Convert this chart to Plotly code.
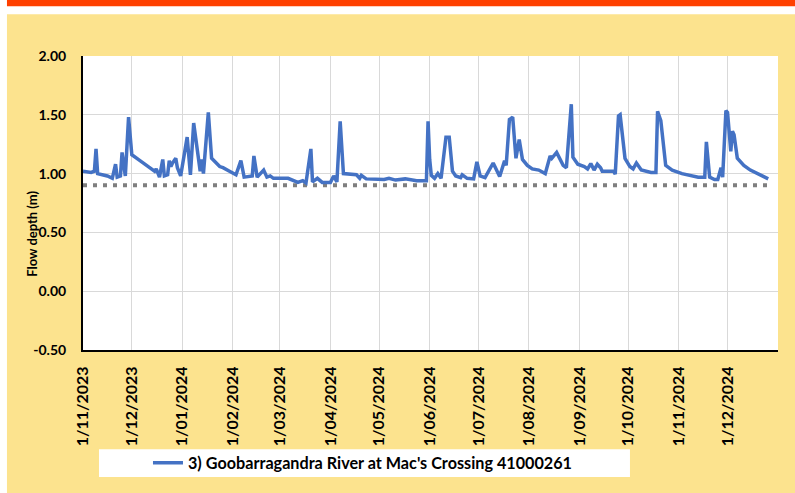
import plotly.graph_objects as go
import pandas as pd

# --- data ---
start_date = "2023-11-01"
days_since_start = [0, 5, 7, 8, 9, 12, 15, 18, 20, 21, 23, 24, 26, 28, 30, 35, 39, 42, 44, 45,
                    47, 49, 50, 52, 53, 54, 55, 57, 58, 60, 64, 66, 68, 72, 73, 74, 77, 79, 84, 86,
                    90, 94, 97, 99, 104, 105, 107, 111, 113, 115, 117, 126, 132, 135, 137, 140, 141, 144, 147, 152,
                    154, 156, 158, 160, 168, 170, 171, 174, 185, 188, 192, 198, 205, 211, 212, 213, 214, 216, 218, 220,
                    223, 225, 227, 229, 232, 233, 236, 240, 242, 244, 247, 252, 256, 259, 260, 262, 264, 266, 268, 270,
                    273, 276, 280, 284, 287, 288, 291, 295, 297, 300, 301, 304, 308, 310, 312, 314, 316, 318, 319, 326,
                    327, 329, 330, 333, 336, 338, 340, 343, 349, 352, 353, 355, 358, 362, 368, 374, 378, 382, 383, 385,
                    388, 390, 392, 393, 395, 396, 398, 399, 400, 402, 406, 410, 415, 419, 421]
flow_depth = [1.02, 1.01, 1.02, 1.21, 1.00, 0.99, 0.98, 0.96, 1.08, 0.97, 0.98, 1.18, 0.98, 1.48, 1.16, 1.11, 1.065, 1.04, 1.02, 1.04,
              0.97, 1.12, 0.98, 0.99, 1.11, 1.06, 1.09, 1.13, 1.05, 0.98, 1.31, 0.99, 1.43, 1.02, 1.12, 1.00, 1.52, 1.13, 1.06, 1.05,
              1.02, 0.99, 1.11, 0.97, 0.98, 1.15, 0.97, 1.03, 0.97, 0.98, 0.96, 0.96, 0.925, 0.94, 0.92, 1.21, 0.93, 0.96, 0.925, 0.925,
              0.98, 0.93, 1.445, 1.00, 0.99, 0.96, 0.985, 0.955, 0.95, 0.96, 0.945, 0.955, 0.94, 0.94, 1.445, 1.12, 0.985, 0.96, 1.00, 0.96,
              1.31, 1.31, 1.02, 0.98, 0.965, 0.99, 0.96, 0.955, 1.10, 0.98, 0.965, 1.09, 0.975, 1.11, 1.07, 1.46, 1.48, 1.13, 1.29, 1.12,
              1.07, 1.04, 1.03, 1.00, 1.15, 1.13, 1.18, 1.07, 1.05, 1.59, 1.14, 1.08, 1.06, 1.04, 1.085, 1.03, 1.08, 1.05, 1.02, 1.02,
              0.995, 1.49, 1.50, 1.13, 1.06, 1.04, 1.09, 1.03, 1.01, 1.01, 1.53, 1.45, 1.07, 1.03, 1.00, 0.985, 0.97, 0.97, 1.27, 0.97,
              0.95, 0.95, 1.05, 0.97, 1.535, 1.52, 1.19, 1.36, 1.33, 1.13, 1.07, 1.03, 0.995, 0.975, 0.955]
threshold_depth = 0.90
series_name = "3) Goobarragandra River at Mac's Crossing 41000261"
month_ticks = ["2023-11-01", "2023-12-01", "2024-01-01", "2024-02-01", "2024-03-01", "2024-04-01", "2024-05-01",
               "2024-06-01", "2024-07-01", "2024-08-01", "2024-09-01", "2024-10-01", "2024-11-01", "2024-12-01"]
y_ticks = [-0.5, 0.0, 0.5, 1.0, 1.5, 2.0]
y_tick_labels = ["-0.50", "0.00", "0.50", "1.00", "1.50", "2.00"]

dates = pd.Timestamp(start_date) + pd.to_timedelta(days_since_start, unit="D")

FONT = "Lato"
BOLD = dict(family=FONT, color="black", weight="bold")

fig = go.Figure()

# threshold (dotted grey)
fig.add_trace(go.Scatter(
    x=[dates[0], dates[-1]], y=[threshold_depth, threshold_depth],
    mode="lines", line=dict(color="#7F7F7F", width=4, dash="4px,6px"),
    showlegend=False, hoverinfo="skip"))

# flow depth
fig.add_trace(go.Scatter(
    x=dates, y=flow_depth, mode="lines", name=series_name,
    line=dict(color="#4472C4", width=3.5)))

# --- background panels ---
shapes = [
    dict(type="rect", xref="paper", yref="paper", x0=-0.2, x1=-0.1094, y0=-0.6, y1=1.3,
         fillcolor="white", line_width=0, layer="below"),
    dict(type="rect", xref="paper", yref="paper", x0=-0.2, x1=1.1, y0=1.1419, y1=1.3,
         fillcolor="white", line_width=0, layer="below"),
    dict(type="rect", xref="paper", yref="paper", x0=-0.1094, x1=1.1, y0=1.1689, y1=1.3,
         fillcolor="#FF4000", line_width=0, layer="below"),
    dict(type="rect", xref="paper", yref="paper", x0=0, x1=1, y0=0, y1=1,
         fillcolor="white", line_width=0, layer="below"),
    dict(type="rect", xref="paper", yref="paper", x0=0.023, x1=0.787, y0=-0.432, y1=-0.338,
         fillcolor="white", line_width=0, layer="below"),
]

fig.update_layout(
    width=795, height=493,
    margin=dict(l=83, r=17, t=56, b=141),
    paper_bgcolor="#FCE38E",
    plot_bgcolor="white",
    shapes=shapes,
    showlegend=True,
    legend=dict(x=0.0935, y=-0.385, xanchor="left", yanchor="middle",
                orientation="h", bgcolor="rgba(0,0,0,0)", font=dict(size=16.2, **BOLD)),
    annotations=[dict(text="Flow depth (m)", xref="paper", yref="paper", x=-0.0735, y=0.395,
                      xanchor="center", yanchor="middle",
                      textangle=-90, showarrow=False, font=dict(size=13, **BOLD))],
)

fig.update_xaxes(
    range=[pd.Timestamp(start_date), pd.Timestamp("2025-01-01")],
    tickvals=pd.to_datetime(month_ticks), tickformat="%-d/%m/%Y", tickangle=-90,
    tickfont=dict(size=16, **BOLD), ticklabelstandoff=8, automargin=False,
    showgrid=True, gridcolor="#D9D9D9", gridwidth=1,
    showline=True, linecolor="black", linewidth=2, zeroline=False,
)
fig.update_yaxes(
    range=[-0.5, 2.0], tickvals=y_ticks, ticktext=y_tick_labels,
    tickfont=dict(size=14, **BOLD), ticklabelstandoff=12, automargin=False,
    showgrid=True, gridcolor="#D9D9D9", gridwidth=1,
    showline=True, linecolor="black", linewidth=2, zeroline=False,
)

# page has a default body margin; drop it so the figure fills the window
fig.write_html("out.html", config={"displayModeBar": False},
               post_script="document.body.style.margin='0';")
